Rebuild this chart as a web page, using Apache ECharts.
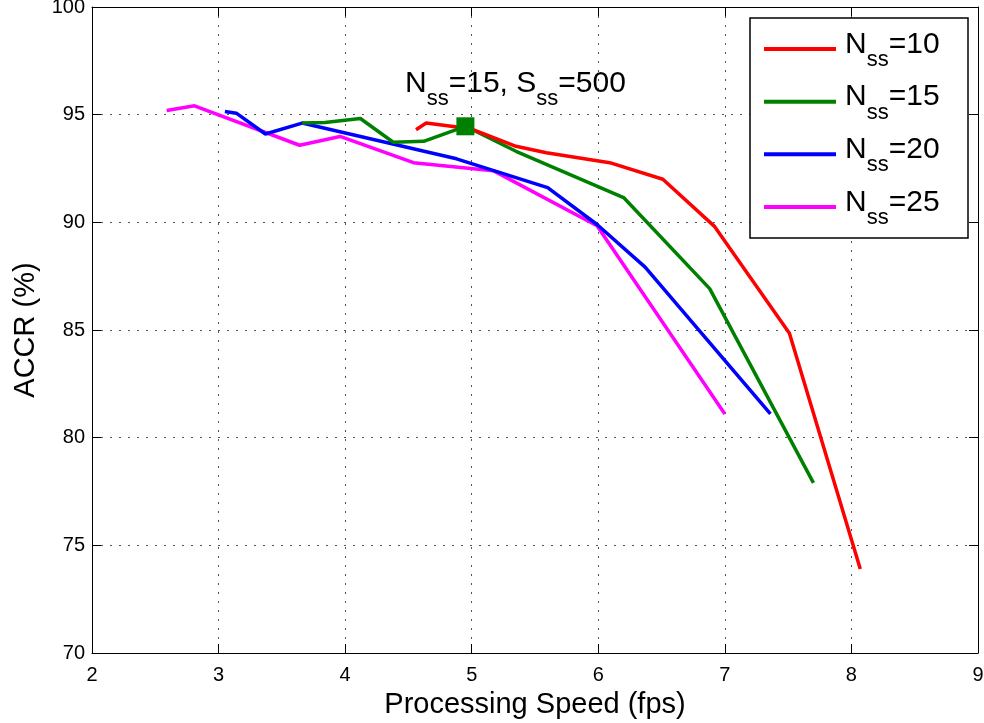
<!DOCTYPE html>
<html>
<head>
<meta charset="utf-8">
<script src="https://cdn.jsdelivr.net/npm/echarts@6/dist/echarts.min.js"></script>
<style>
  html, body { margin: 0; padding: 0; background: #fff; }
  #main { width: 984px; height: 723px; }
</style>
</head>
<body>
<div id="main"></div>
<script>
// data
const nss10 = [[4.56, 94.30], [4.64, 94.61], [4.99, 94.35], [5.35, 93.53], [5.59, 93.23], [6.09, 92.77], [6.51, 92.0], [6.92, 89.8], [7.51, 84.85], [8.07, 73.9]];
const nss15 = [[3.66, 94.61], [3.84, 94.64], [4.12, 94.82], [4.38, 93.72], [4.62, 93.76], [4.95, 94.46], [5.35, 93.30], [6.20, 91.15], [6.88, 86.92], [7.70, 77.9]];
const nss20 = [[3.05, 95.15], [3.14, 95.07], [3.37, 94.1], [3.66, 94.61], [4.88, 92.95], [5.60, 91.61], [5.99, 89.9], [6.37, 87.92], [7.36, 81.1]];
const nss25 = [[2.59, 95.19], [2.81, 95.41], [3.64, 93.58], [3.96, 93.99], [4.54, 92.77], [5.17, 92.4], [5.99, 89.84], [7.0, 81.1]];
const seriesNames = ['10', '15', '20', '25'];
const seriesColors = ['#ff0000', '#008000', '#0000ff', '#ff00ff'];
const optimum = [4.95, 94.46];

const font = 'Liberation Sans, Arial, sans-serif';
const allData = [nss10, nss15, nss20, nss25];

var myChart = echarts.init(document.getElementById('main'));

const gridLine = { show: true, lineStyle: { color: '#555', type: [2, 7], width: 1 } };
const tick = { show: true, inside: true, length: 9, lineStyle: { color: '#000' } };

function txt(s, x, y, size) {
  return { type: 'text', x: x, y: y, z: 100, style: { text: s, fontSize: size, fontFamily: font, fill: '#000', verticalAlign: 'top' } };
}
// "N" + subscript "ss" + rest, placed piece by piece (x = left edge, y = cap top of N)
function subLabel(x, capTop, rest) {
  return [
    txt('N', x, capTop - 3.5, 30),
    txt('ss', x + 21.7, capTop + 15.8, 22),
    txt(rest, x + 43.7, capTop - 3.5, 30)
  ];
}

// legend box drawn by hand to get the MATLAB look with subscripts
const graphics = [{
  type: 'rect', z: 90,
  shape: { x: 750, y: 18, width: 218, height: 220 },
  style: { fill: '#fff', stroke: '#000', lineWidth: 1.5 }
}];
seriesNames.forEach(function (name, i) {
  const y0 = 49 + 52.67 * i;
  graphics.push({
    type: 'line', z: 100,
    shape: { x1: 764, y1: y0, x2: 836, y2: y0 },
    style: { stroke: seriesColors[i], lineWidth: 4 }
  });
  subLabel(845, y0 - 16, '=' + name).forEach(function (g) { graphics.push(g); });
});
// annotation of the chosen operating point
[
  txt('N', 405, 68.5, 30),
  txt('ss', 426.7, 87.8, 22),
  txt('=15, S', 448.7, 68.5, 30),
  txt('ss', 536.3, 87.8, 22),
  txt('=500', 558.3, 68.5, 30)
].forEach(function (g) { graphics.push(g); });

const series = allData.map(function (d, i) {
  return {
    name: 'Nss=' + seriesNames[i],
    type: 'line',
    data: d,
    symbol: 'none',
    lineStyle: { width: 3.5, color: seriesColors[i] },
    itemStyle: { color: seriesColors[i] },
    z: 10 - i
  };
});
// the chosen operating point, drawn on top
series.push({
  name: 'optimum',
  type: 'scatter',
  data: [optimum],
  symbol: 'rect',
  symbolSize: 18,
  itemStyle: { color: '#008000', opacity: 1 },
  emphasis: { disabled: true },
  z: 20
});

const options = {
  animation: false,
  backgroundColor: '#fff',
  grid: { left: 92, right: 6, top: 7, bottom: 70, containLabel: false, outerBoundsMode: 'none' },
  graphic: graphics,
  xAxis: [{
    type: 'value',
    min: 2, max: 9, interval: 1,
    name: 'Processing Speed (fps)',
    nameLocation: 'middle',
    nameGap: 37,
    nameTextStyle: { fontSize: 29, color: '#000', fontFamily: font },
    axisLine: { show: true, lineStyle: { color: '#000', width: 1 } },
    axisTick: tick,
    axisLabel: { fontSize: 20, color: '#000', fontFamily: font, margin: 12 },
    splitLine: gridLine
  }, {
    type: 'value', position: 'top',
    min: 2, max: 9, interval: 1,
    axisLine: { show: true, onZero: false, lineStyle: { color: '#000', width: 1 } },
    axisTick: tick,
    axisLabel: { show: false },
    splitLine: { show: false }
  }],
  yAxis: [{
    type: 'value',
    min: 70, max: 100, interval: 5,
    name: 'ACCR (%)',
    nameLocation: 'middle',
    nameGap: 52,
    nameTextStyle: { fontSize: 29, color: '#000', fontFamily: font },
    axisLine: { show: true, lineStyle: { color: '#000', width: 1 } },
    axisTick: tick,
    axisLabel: { fontSize: 20, color: '#000', fontFamily: font, margin: 7 },
    splitLine: gridLine
  }, {
    type: 'value', position: 'right',
    min: 70, max: 100, interval: 5,
    axisLine: { show: true, onZero: false, lineStyle: { color: '#000', width: 1 } },
    axisTick: tick,
    axisLabel: { show: false },
    splitLine: { show: false }
  }],
  series: series
};

myChart.setOption(options);
window.onresize = function () { myChart.resize(); };
</script>
</body>
</html>
